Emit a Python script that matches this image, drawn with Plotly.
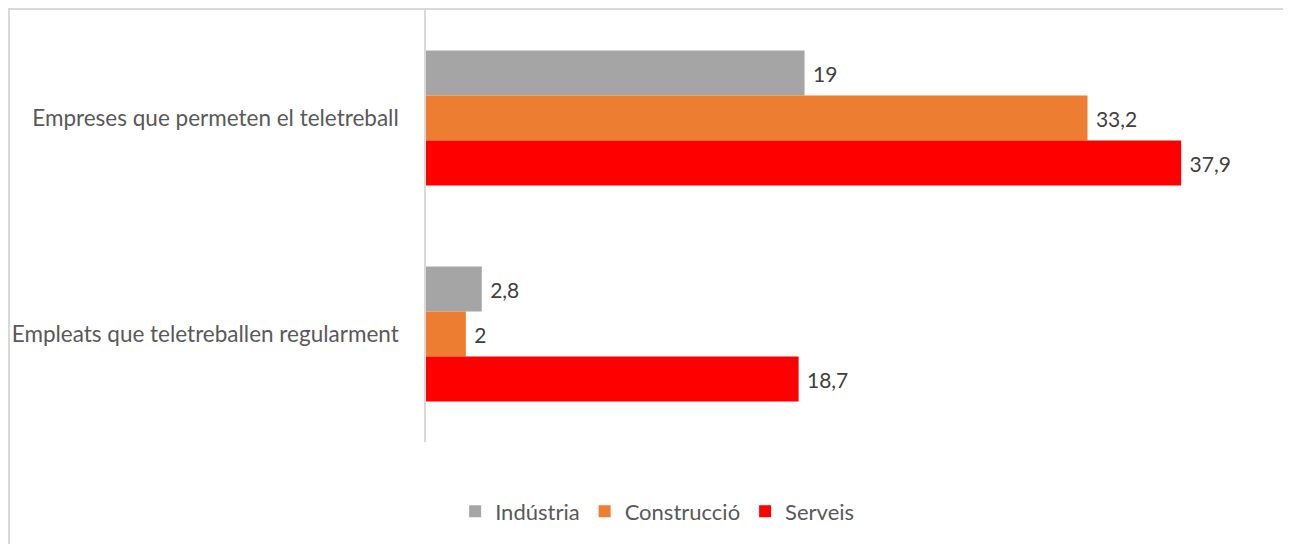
import plotly.graph_objects as go

categories = ["Empreses que permeten el teletreball", "Empleats que teletreballen regularment"]
industria = [19, 2.8]
construccio = [33.2, 2]
serveis = [37.9, 18.7]

series = [
    ("Indústria", industria, "#A5A5A5"),
    ("Construcció", construccio, "#ED7D31"),
    ("Serveis", serveis, "#FF0000"),
]

fig = go.Figure()
for name, vals, col in series:
    fig.add_trace(go.Bar(
        y=categories,
        x=vals,
        name=name,
        orientation="h",
        marker=dict(color=col, line=dict(width=0)),
        text=[" " + f"{v:g}".replace(".", ",") for v in vals],
        textposition="outside",
        textfont=dict(color="#404040", size=21),
        cliponaxis=False,
    ))

# plot area in figure pixels: x 418..1215, y 2..434
fig.update_layout(
    width=1291, height=544,
    margin=dict(l=418, r=76, t=2, b=110),
    paper_bgcolor="white", plot_bgcolor="white",
    font=dict(family="Lato", size=22, color="#595959"),
    barmode="group",
    bargap=0.375,
    bargroupgap=0,
    showlegend=True,
    legend=dict(orientation="h", x=0.29, xanchor="center", y=-0.1605, yanchor="middle",
                font=dict(size=22, color="#595959"), traceorder="normal",
                itemwidth=30),
    xaxis=dict(range=[0, 40], visible=False, showgrid=False, zeroline=False),
    yaxis=dict(autorange="reversed", showline=True, linecolor="#D9D9D9", linewidth=1.5,
               ticks="", showgrid=False, ticklabelstandoff=21,
               tickfont=dict(size=22.5, color="#595959")),
)

# outer chart frame
fig.add_shape(type="rect", xref="paper", yref="paper",
              x0=(1 - 418) / 797, x1=(1300 - 418) / 797,
              y0=(434 - 560) / 432, y1=(434 - 1) / 432,
              line=dict(color="#D9D9D9", width=2), fillcolor="rgba(0,0,0,0)", layer="below")

fig.write_html("out.html")
